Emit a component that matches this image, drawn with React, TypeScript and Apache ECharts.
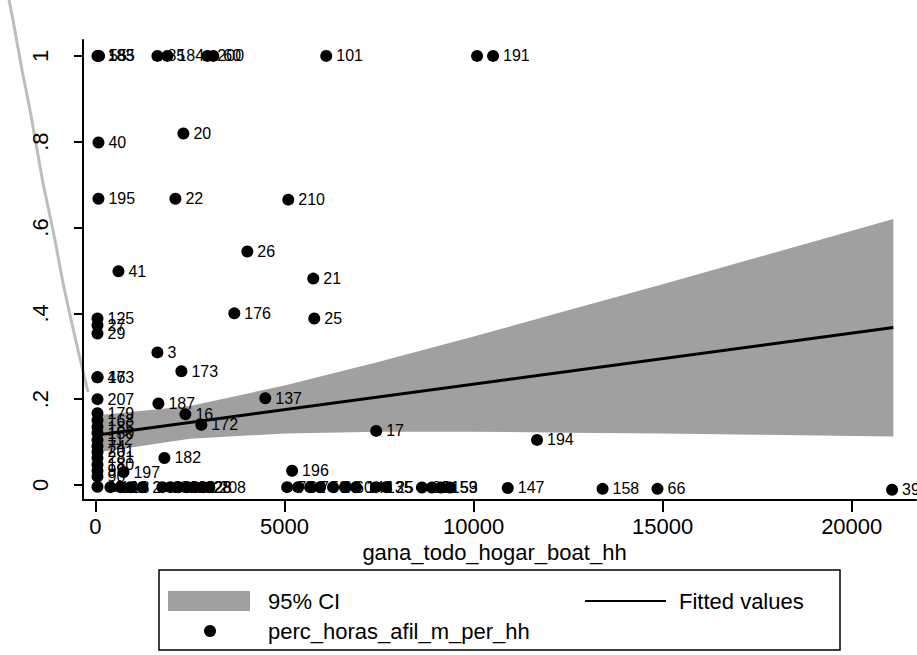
import React, { useEffect, useRef } from "react";
import * as echarts from "echarts";

// Scatter points: x value, y value, marker label
const pointX = [
  53, 70, 95, 1638, 1902, 2959, 3117, 6103, 10092, 10515,
  79, 2325, 79, 2114, 5099, 4016, 608, 5760, 3672, 5786,
  53, 53, 53, 1638, 2272, 53, 53, 53, 1664, 4491,
  2378, 2800, 7424, 11678, 1823, 5200, 740,
  53, 53, 53, 53, 53, 53, 53, 53, 53, 53, 53, 53,
  396, 660, 924, 1240, 1770, 1980, 2200, 2430, 2640, 2850, 3010,
  5069, 5359, 5676, 5940, 6283, 6600, 6890, 7418, 7682,
  8633, 8897, 9134, 9372, 10903, 13411, 14863, 21067,
];
const pointY = [
  1, 1, 1, 1, 1, 1, 1, 1, 1, 1,
  0.798, 0.819, 0.667, 0.667, 0.665, 0.544, 0.498, 0.481, 0.4, 0.388,
  0.388, 0.372, 0.353, 0.309, 0.265, 0.251, 0.251, 0.2, 0.19, 0.202,
  0.165, 0.14, 0.126, 0.105, 0.063, 0.033, 0.03,
  0.167, 0.151, 0.135, 0.121, 0.105, 0.09, 0.077, 0.063, 0.047, 0.033, 0.02, -0.004,
  -0.005, -0.005, -0.005, -0.005, -0.005, -0.005, -0.005, -0.005, -0.005, -0.005, -0.005,
  -0.005, -0.005, -0.005, -0.005, -0.005, -0.005, -0.005, -0.005, -0.005,
  -0.006, -0.006, -0.006, -0.006, -0.007, -0.009, -0.009, -0.011,
];
const pointLabel = [
  "183", "185", "55", "85", "184", "200", "60", "101", "", "191",
  "40", "20", "195", "22", "210", "26", "41", "21", "176", "25",
  "125", "27", "29", "3", "173", "47", "163", "207", "187", "137",
  "16", "172", "17", "194", "182", "196", "197",
  "179", "168", "185", "150", "112", "74", "201", "281", "180", "99", "90", "11",
  "18", "11", "8", "2", "24", "82", "122", "18", "128", "28", "208",
  "75", "62", "7", "50", "92", "60", "143", "135", "25",
  "89", "91", "153", "59", "147", "158", "66", "39",
];

// Fitted line (end points)
const fitX = [0, 21100];
const fitY = [0.116, 0.367];

// 95% confidence band
const ciX = [0, 2500, 5000, 7500, 10000, 12500, 15000, 17500, 21100];
const ciLo = [0.075, 0.108, 0.12, 0.124, 0.124, 0.122, 0.12, 0.117, 0.113];
const ciHi = [0.162, 0.184, 0.232, 0.287, 0.346, 0.407, 0.468, 0.53, 0.62];

// Axis ticks
const xTicks = [0, 5000, 10000, 15000, 20000];
const yTicks = [0, 0.2, 0.4, 0.6, 0.8, 1];

const FONT = "'Liberation Sans', Arial, sans-serif";
const BAND = "#a0a0a0";

export default function App() {
  const ref = useRef<HTMLDivElement>(null);
  useEffect(() => {
    document.body.style.margin = "0";
    if (!ref.current) return;
    const chart = echarts.init(ref.current, undefined, { renderer: "svg" });
    const scatterData = pointX.map((x, i) => ({ value: [x, pointY[i]], name: pointLabel[i] }));
    chart.setOption({
      animation: false,
      backgroundColor: "#ffffff",
      grid: { left: 83, top: 40, width: 833, height: 460, containLabel: false },
      xAxis: {
        type: "value",
        min: -330,
        max: 21700,
        name: "gana_todo_hogar_boat_hh",
        nameLocation: "middle",
        nameGap: 38,
        nameTextStyle: { fontFamily: FONT, fontSize: 22, color: "#000", padding: [0, 10, 0, 0] },
        axisLine: { show: true, onZero: false, lineStyle: { color: "#000", width: 2 } },
        axisTick: { show: true, length: 12, customValues: xTicks, lineStyle: { color: "#000", width: 2 } },
        axisLabel: {
          customValues: xTicks,
          margin: 15,
          fontFamily: FONT,
          fontSize: 22,
          color: "#000",
          formatter: (v: number) => String(v),
        },
        splitLine: { show: false },
      },
      yAxis: {
        type: "value",
        min: -0.035,
        max: 1.037,
        axisLine: { show: true, onZero: false, lineStyle: { color: "#000", width: 2 } },
        axisTick: { show: true, length: 9, customValues: yTicks, lineStyle: { color: "#000", width: 2 } },
        axisLabel: {
          customValues: yTicks,
          rotate: 90,
          margin: 32,
          fontFamily: FONT,
          fontSize: 22,
          color: "#000",
          formatter: (v: number) => {
            if (Math.abs(v) < 1e-9) return "0";
            if (Math.abs(v - 1) < 1e-9) return "1";
            return v.toFixed(1).replace(/^0/, "");
          },
        },
        splitLine: { show: false },
      },
      series: [
        {
          type: "custom",
          silent: true,
          z: 1,
          data: [[0, 0]],
          encode: { x: 0, y: 1 },
          renderItem: (_params: any, api: any) => {
            const pts: number[][] = [];
            for (let i = 0; i < ciX.length; i++) pts.push(api.coord([ciX[i], ciHi[i]]));
            for (let i = ciX.length - 1; i >= 0; i--) pts.push(api.coord([ciX[i], ciLo[i]]));
            return { type: "polygon", shape: { points: pts }, style: { fill: BAND } };
          },
        },
        {
          type: "line",
          z: 2,
          data: fitX.map((x, i) => [x, fitY[i]]),
          symbol: "none",
          lineStyle: { color: "#000", width: 3 },
          silent: true,
        },
        {
          type: "scatter",
          z: 3,
          data: scatterData,
          symbol: "circle",
          symbolSize: 12,
          itemStyle: { color: "#000", opacity: 1 },
          label: {
            show: true,
            position: "right",
            distance: 4,
            formatter: "{b}",
            fontFamily: FONT,
            fontSize: 16,
            color: "#000",
          },
        },
      ],
      graphic: [
        {
          type: "polyline",
          silent: true,
          shape: {
            points: [
              [9, 0], [13, 20], [22, 70], [30, 110], [43, 183], [55, 240],
              [63, 283], [70, 315], [78, 350], [88, 392],
            ],
          },
          style: { stroke: "#bdbdbd", lineWidth: 3, fill: null },
        },
        {
          type: "rect",
          shape: { x: 159, y: 570, width: 681, height: 80 },
          style: { fill: "#fff", stroke: "#000", lineWidth: 1.5 },
        },
        { type: "rect", shape: { x: 168, y: 591, width: 82, height: 20 }, style: { fill: BAND } },
        {
          type: "text",
          x: 268,
          y: 601,
          style: { text: "95% CI", fontFamily: FONT, fontSize: 22, fill: "#000", verticalAlign: "middle" },
        },
        { type: "line", shape: { x1: 585, y1: 601, x2: 666, y2: 601 }, style: { stroke: "#000", lineWidth: 2 } },
        {
          type: "text",
          x: 679,
          y: 601,
          style: { text: "Fitted values", fontFamily: FONT, fontSize: 22, fill: "#000", verticalAlign: "middle" },
        },
        { type: "circle", shape: { cx: 210, cy: 631, r: 6 }, style: { fill: "#000" } },
        {
          type: "text",
          x: 268,
          y: 631,
          style: {
            text: "perc_horas_afil_m_per_hh",
            fontFamily: FONT,
            fontSize: 22,
            fill: "#000",
            verticalAlign: "middle",
          },
        },
      ],
    });
    return () => chart.dispose();
  }, []);
  return <div ref={ref} style={{ width: 917, height: 655 }} />;
}
